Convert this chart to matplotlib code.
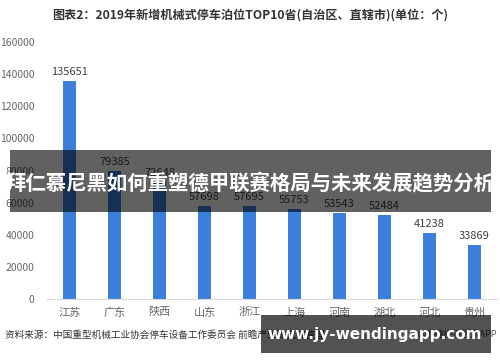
import matplotlib
matplotlib.use("Agg")
import matplotlib.pyplot as plt
from matplotlib.patches import Rectangle

plt.rcParams['font.family'] = ['Noto Sans CJK SC', 'DejaVu Sans']

provinces = ['江苏', '广东', '陕西', '山东', '浙江', '上海', '河南', '湖北', '河北', '贵州']
spaces = [135651, 79385, 72648, 57698, 57695, 55753, 53543, 52484, 41238, 33869]
yticks = [0, 20000, 40000, 60000, 80000, 100000, 120000, 140000, 160000]

title = '图表2：2019年新增机械式停车泊位TOP10省(自治区、直辖市)(单位：个)'
source = '资料来源：中国重型机械工业协会停车设备工作委员会 前瞻产业研究院整理'
credit = '@前瞻经济学人APP'
banner = '拜仁慕尼黑如何重塑德甲联赛格局与未来发展趋势分析'
site = 'www.jy-wendingapp.com'

fig = plt.figure(figsize=(5, 3.62), dpi=100)
ax = fig.add_axes([0.094, 0.174, 0.9, 0.71])

x = range(len(provinces))
bars = ax.bar(x, spaces, width=0.31, color='#3C7FDB', zorder=2)
for xi, v in zip(x, spaces):
    ax.text(xi, v + 2500, str(v), ha='center', va='bottom', fontsize=8, color='#404040')

ax.set_xlim(-0.5, len(provinces) - 0.5)
ax.set_ylim(0, 160000)
ax.set_yticks(yticks)
ax.set_yticklabels([str(t) for t in yticks], fontsize=7.5, color='#666666')
ax.set_xticks(list(x))
ax.set_xticklabels(provinces, fontsize=8, color='#666666')
ax.tick_params(length=0, axis='y', pad=9)
ax.tick_params(length=0, axis='x', pad=6)
for s in ['top', 'right', 'left']:
    ax.spines[s].set_visible(False)
ax.spines['bottom'].set_color('#d9d9d9')

fig.text(0.5, 0.958, title, ha='center', va='center', fontsize=8.7, fontweight='bold', color='#333333')
fig.text(0.01, 0.075, source, ha='left', va='center', fontsize=6.9, color='#333333')
fig.text(0.995, 0.075, credit, ha='right', va='center', fontsize=6.5, color='#555555')

# overlay banners
fig.patches.append(Rectangle((0.02, 1 - 212 / 362), 0.962, 62 / 362, transform=fig.transFigure,
                             facecolor='black', alpha=0.62, zorder=5))
fig.text(0.5, 1 - 184 / 362, banner, ha='center', va='center', fontsize=14.7, fontweight='bold',
         color='white', zorder=6)
fig.patches.append(Rectangle((0.522, 1 - 353 / 362), 0.46, 38 / 362, transform=fig.transFigure,
                             facecolor='black', alpha=0.68, zorder=5))
fig.text(0.75, 1 - 335 / 362, site, ha='center', va='center', fontsize=11, fontweight='bold',
         color='white', family='DejaVu Sans', zorder=6)

fig.savefig('out.png', dpi=100)
